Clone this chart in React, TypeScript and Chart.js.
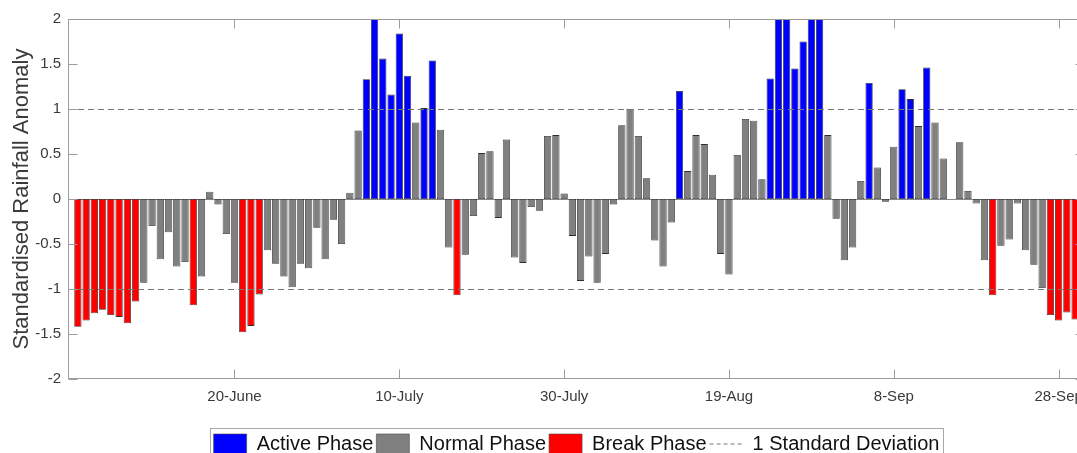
import React, { useEffect, useRef } from 'react';
import { Chart, registerables } from 'chart.js';

Chart.register(...registerables);

// Day index 1 = 1 June ... 122 = 30 September
const anomaly: number[] = [
  -1.42, -1.35, -1.27, -1.23, -1.29, -1.31, -1.38, -1.14, -0.93, -0.30,
  -0.67, -0.37, -0.75, -0.70, -1.18, -0.86, 0.08, -0.06, -0.39, -0.93,
  -1.48, -1.41, -1.06, -0.57, -0.72, -0.86, -0.98, -0.72, -0.77, -0.32,
  -0.67, -0.23, -0.50, 0.07, 0.76, 1.33, 2.20, 1.56, 1.16, 1.84,
  1.37, 0.85, 1.01, 1.54, 0.77, -0.54, -1.07, -0.62, -0.19, 0.51,
  0.53, -0.21, 0.66, -0.65, -0.71, -0.09, -0.13, 0.70, 0.71, 0.06,
  -0.41, -0.91, -0.64, -0.93, -0.61, -0.06, 0.82, 1.00, 0.70, 0.23,
  -0.46, -0.75, -0.26, 1.20, 0.31, 0.71, 0.61, 0.27, -0.61, -0.84,
  0.49, 0.89, 0.87, 0.22, 1.34, 2.30, 2.20, 1.45, 1.75, 2.20,
  2.10, 0.71, -0.22, -0.68, -0.54, 0.20, 1.29, 0.35, -0.03, 0.58,
  1.22, 1.11, 0.81, 1.46, 0.85, 0.45, 0.00, 0.63, 0.09, -0.05,
  -0.68, -1.07, -0.52, -0.45, -0.05, -0.57, -0.73, -0.99, -1.29, -1.35,
  -1.26, -1.34,
];

// A = active, N = normal, B = break
const phase: string[] = [
  'B', 'B', 'B', 'B', 'B', 'B', 'B', 'B', 'N', 'N',
  'N', 'N', 'N', 'N', 'B', 'N', 'N', 'N', 'N', 'N',
  'B', 'B', 'B', 'N', 'N', 'N', 'N', 'N', 'N', 'N',
  'N', 'N', 'N', 'N', 'N', 'A', 'A', 'A', 'A', 'A',
  'A', 'N', 'A', 'A', 'N', 'N', 'B', 'N', 'N', 'N',
  'N', 'N', 'N', 'N', 'N', 'N', 'N', 'N', 'N', 'N',
  'N', 'N', 'N', 'N', 'N', 'N', 'N', 'N', 'N', 'N',
  'N', 'N', 'N', 'A', 'N', 'N', 'N', 'N', 'N', 'N',
  'N', 'N', 'N', 'N', 'A', 'A', 'A', 'A', 'A', 'A',
  'A', 'N', 'N', 'N', 'N', 'N', 'A', 'N', 'N', 'N',
  'A', 'A', 'N', 'A', 'N', 'N', 'N', 'N', 'N', 'N',
  'N', 'B', 'N', 'N', 'N', 'N', 'N', 'N', 'B', 'B',
  'B', 'B',
];

const tickDays: number[] = [20, 40, 60, 80, 100, 120];
const tickLabels: string[] = ['20-June', '10-July', '30-July', '19-Aug', '8-Sep', '28-Sep'];

const phaseKeys: string[] = ['A', 'N', 'B'];
const phaseNames: string[] = ['Active Phase', 'Normal Phase', 'Break Phase'];
const phaseColors: string[] = ['#0000ff', '#808080', '#ff0000'];

const stdLevels: number[] = [1, -1];
const stdLabel = '1 Standard Deviation';

const FONT = "'Liberation Sans', Arial, sans-serif";
const AXIS_COLOR = '#9c9c9c';
const TEXT_COLOR = '#3a3a3a';

const framePlugin = {
  id: 'frame',
  beforeDatasetsDraw(chart: any) {
    const { ctx, chartArea, scales } = chart;
    const py = Math.round(scales.y.getPixelForValue(0)) + 0.5;
    ctx.save();
    ctx.strokeStyle = '#8a8a8a';
    ctx.lineWidth = 1;
    ctx.beginPath();
    ctx.moveTo(chartArea.left, py);
    ctx.lineTo(chartArea.right, py);
    ctx.stroke();
    ctx.restore();
  },
  afterDatasetsDraw(chart: any) {
    const { ctx, chartArea, scales } = chart;
    const { left, right, top, bottom } = chartArea;
    const x = scales.x;
    const y = scales.y;
    ctx.save();
    // standard deviation lines
    ctx.strokeStyle = '#777777';
    ctx.lineWidth = 1;
    ctx.setLineDash([6, 4]);
    stdLevels.forEach((v) => {
      const py = Math.round(y.getPixelForValue(v)) + 0.5;
      ctx.beginPath();
      ctx.moveTo(left, py);
      ctx.lineTo(right, py);
      ctx.stroke();
    });
    ctx.setLineDash([]);
    // axes box
    ctx.strokeStyle = AXIS_COLOR;
    const L = Math.round(left) + 0.5;
    const R = Math.round(right) - 0.5;
    const T = Math.round(top) + 0.5;
    const B = Math.round(bottom) - 0.5;
    ctx.strokeRect(L, T, R - L, B - T);
    // inward ticks
    const tl = 9;
    ctx.beginPath();
    y.ticks.forEach((t: any) => {
      const py = Math.round(y.getPixelForValue(t.value)) + 0.5;
      ctx.moveTo(L, py);
      ctx.lineTo(L + tl, py);
      ctx.moveTo(R, py);
      ctx.lineTo(R - tl, py);
    });
    x.ticks.forEach((t: any) => {
      const px = Math.round(x.getPixelForValue(t.value)) + 0.5;
      ctx.moveTo(px, B);
      ctx.lineTo(px, B - tl);
      ctx.moveTo(px, T);
      ctx.lineTo(px, T + tl);
    });
    ctx.stroke();
    ctx.restore();
  },
  afterDraw(chart: any) {
    const legend = chart.legend;
    if (!legend || !legend.legendHitBoxes || !legend.legendHitBoxes.length) return;
    const boxes = legend.legendHitBoxes;
    let minL = Infinity;
    let maxR = -Infinity;
    let minT = Infinity;
    boxes.forEach((b: any) => {
      minL = Math.min(minL, b.left);
      maxR = Math.max(maxR, b.left + b.width);
      minT = Math.min(minT, b.top);
    });
    const ctx = chart.ctx;
    ctx.save();
    ctx.strokeStyle = '#a8a8a8';
    ctx.lineWidth = 1;
    const l = Math.round(minL - 4) + 0.5;
    const t = Math.round(minT - 6) + 0.5;
    const r = Math.round(maxR + 4) + 0.5;
    ctx.strokeRect(l, t, r - l, 40);
    ctx.restore();
  },
};

export default function App() {
  const ref = useRef<HTMLCanvasElement | null>(null);

  useEffect(() => {
    if (!ref.current) return;
    const days = anomaly.map((_, i) => i + 1);
    const datasets: any[] = phaseKeys.map((key, k) => ({
      type: 'bar',
      label: phaseNames[k],
      data: days.map((d, i) => ({ x: d, y: phase[i] === key ? anomaly[i] : null })),
      backgroundColor: phaseColors[k],
      borderColor: '#2e2e2e',
      borderWidth: 0.8,
      borderSkipped: false,
      grouped: false,
      barPercentage: 0.88,
      categoryPercentage: 1,
      clip: 0,
    }));

    const legendItems = () => {
      const items: any[] = phaseNames.map((name, k) => ({
        text: name,
        fillStyle: phaseColors[k],
        strokeStyle: '#444444',
        lineWidth: 0.6,
        pointStyle: 'rect',
        hidden: false,
        datasetIndex: k,
        fontColor: '#111111',
      }));
      items.push({
        text: stdLabel,
        fillStyle: 'rgba(0,0,0,0)',
        strokeStyle: '#777777',
        lineWidth: 1,
        lineDash: [4, 3],
        pointStyle: 'line',
        hidden: false,
        fontColor: '#111111',
      });
      return items;
    };

    const chart = new Chart(ref.current, {
      type: 'bar',
      data: { datasets },
      plugins: [framePlugin],
      options: {
        animation: false,
        responsive: false,
        devicePixelRatio: 1,
        layout: { padding: { left: 0, top: 19, right: 15, bottom: 0 } },
        plugins: {
          tooltip: { enabled: false },
          legend: {
            display: true,
            position: 'bottom',
            fullSize: false,
            onClick: () => {},
            labels: {
              usePointStyle: true,
              pointStyleWidth: 33,
              boxWidth: 33,
              boxHeight: 20,
              padding: 3,
              color: '#111111',
              font: { family: FONT, size: 20 },
              generateLabels: legendItems,
            },
          },
        },
        scales: {
          x: {
            type: 'linear',
            offset: false,
            min: -0.2,
            max: 123.2,
            grid: { display: false, drawTicks: false, offset: false },
            border: { display: false },
            afterBuildTicks: (scale: any) => {
              scale.ticks = tickDays.map((v) => ({ value: v }));
            },
            afterFit: (scale: any) => {
              scale.height = 52;
            },
            ticks: {
              autoSkip: false,
              maxRotation: 0,
              padding: 9,
              color: TEXT_COLOR,
              font: { family: FONT, size: 15 },
              callback: (value: any) => {
                const idx = tickDays.indexOf(Number(value));
                return idx >= 0 ? tickLabels[idx] : '';
              },
            },
          },
          y: {
            min: -2,
            max: 2,
            grid: { display: false, drawTicks: false },
            border: { display: false },
            afterFit: (scale: any) => {
              scale.width = 68;
            },
            ticks: {
              stepSize: 0.5,
              padding: 7,
              color: TEXT_COLOR,
              font: { family: FONT, size: 15 },
              callback: (value: any) => String(Number(value)),
            },
            title: {
              display: true,
              text: 'Standardised Rainfall Anomaly',
              color: TEXT_COLOR,
              font: { family: FONT, size: 22 },
              padding: { top: 9, bottom: 0 },
            },
          },
        },
      } as any,
    });
    return () => chart.destroy();
  }, []);

  return (
    <div
      style={{
        position: 'fixed',
        left: 0,
        top: 0,
        width: 1077,
        height: 453,
        overflow: 'hidden',
        background: '#ffffff',
      }}
    >
      <canvas ref={ref} width={1100} height={464} style={{ display: 'block' }} />
    </div>
  );
}
